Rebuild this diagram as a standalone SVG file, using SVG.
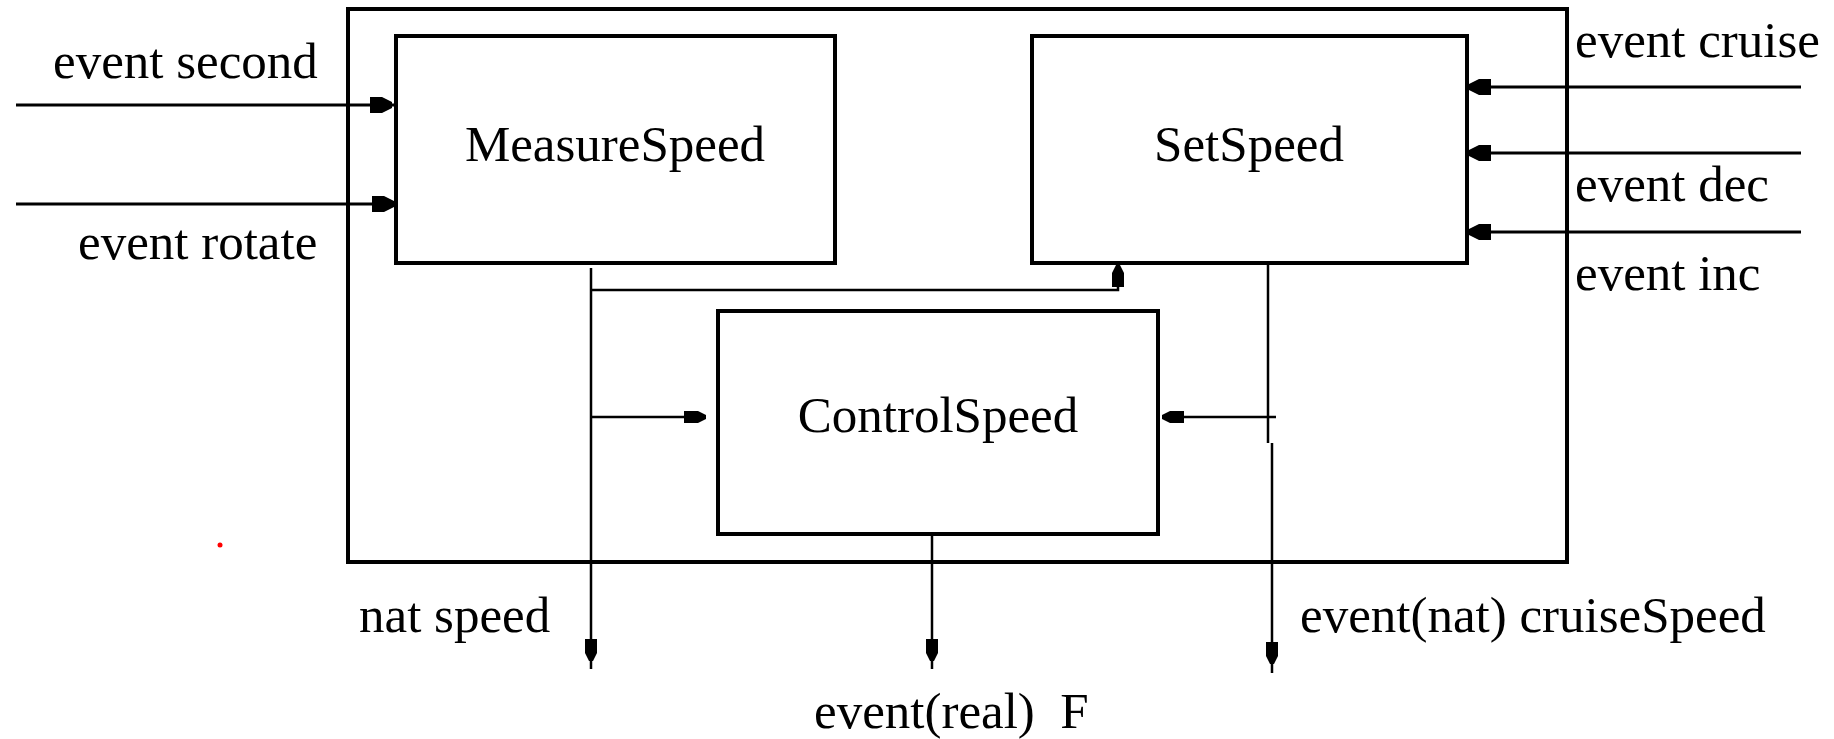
<svg xmlns="http://www.w3.org/2000/svg" xmlns:xlink="http://www.w3.org/1999/xlink" width="1834" height="739" viewBox="0 0 1834 739">
<style>
  .lbl { font-family: "Liberation Serif", "Times New Roman", serif; font-size: 51px; fill: #000; }
  .box { fill: #fff; stroke: #000; stroke-width: 4; }
  .wire { fill: none; stroke: #000; stroke-width: 3; }
  .thin { fill: none; stroke: #000; stroke-width: 2.5; }
</style>
<defs>
  <polygon id="ah" points="0,-3 0,3 -10,8 -22,8 -22,-8 -10,-8" fill="#000"/>
  <polygon id="ahs" points="0,-2 0,2 -8,6 -22,6 -22,-6 -8,-6" fill="#000"/>
</defs>
<rect width="1834" height="739" fill="#fff"/>
<g id="system">
  <rect x="348" y="9" width="1219" height="553" fill="none" stroke="#000" stroke-width="4"/>
</g>
<g id="connectors">
  <line class="wire" x1="16" y1="105" x2="396" y2="105"/>
  <use xlink:href="#ah" href="#ah" transform="translate(392,105)"/>
  <line class="wire" x1="16" y1="204" x2="396" y2="204"/>
  <use xlink:href="#ah" href="#ah" transform="translate(394,204)"/>
  <line class="wire" x1="1801" y1="87" x2="1467" y2="87"/>
  <use xlink:href="#ah" href="#ah" transform="translate(1469,87) rotate(180)"/>
  <line class="wire" x1="1801" y1="153" x2="1467" y2="153"/>
  <use xlink:href="#ah" href="#ah" transform="translate(1469,153) rotate(180)"/>
  <line class="wire" x1="1801" y1="232" x2="1467" y2="232"/>
  <use xlink:href="#ah" href="#ah" transform="translate(1469,232) rotate(180)"/>
  <polyline class="thin" points="591,268 591,669"/>
  <polyline class="thin" points="591,290 1118,290 1118,264"/>
  <use xlink:href="#ahs" href="#ahs" transform="translate(1118,265) rotate(-90)"/>
  <line class="thin" x1="591" y1="417" x2="706" y2="417"/>
  <use xlink:href="#ahs" href="#ahs" transform="translate(706,417)"/>
  <polyline class="thin" points="1268,258 1268,443"/>
  <polyline class="thin" points="1272,443 1272,673"/>
  <line class="thin" x1="1276" y1="417" x2="1162" y2="417"/>
  <use xlink:href="#ahs" href="#ahs" transform="translate(1162,417) rotate(180)"/>
  <line class="thin" x1="932" y1="534" x2="932" y2="669"/>
  <use xlink:href="#ahs" href="#ahs" transform="translate(932,661) rotate(90)"/>
  <use xlink:href="#ahs" href="#ahs" transform="translate(591,661) rotate(90)"/>
  <use xlink:href="#ahs" href="#ahs" transform="translate(1272,664) rotate(90)"/>
</g>
<g id="MeasureSpeed">
  <rect class="box" x="396" y="36" width="439" height="227"/>
  <text class="lbl" x="615" y="161" text-anchor="middle">MeasureSpeed</text>
</g>
<g id="SetSpeed">
  <rect class="box" x="1032" y="36" width="435" height="227"/>
  <text class="lbl" x="1249" y="161" text-anchor="middle">SetSpeed</text>
</g>
<g id="ControlSpeed">
  <rect class="box" x="718" y="311" width="440" height="223" stroke-width="3.5"/>
  <text class="lbl" x="938" y="432" text-anchor="middle">ControlSpeed</text>
</g>
<g id="labels">
  <text class="lbl" x="53" y="78">event second</text>
  <text class="lbl" x="78" y="259">event rotate</text>
  <text class="lbl" x="1575" y="57">event cruise</text>
  <text class="lbl" x="1575" y="201">event dec</text>
  <text class="lbl" x="1575" y="290">event inc</text>
  <text class="lbl" x="359" y="632">nat speed</text>
  <text class="lbl" x="1300" y="632">event(nat) cruiseSpeed</text>
  <text class="lbl" x="814" y="728" xml:space="preserve">event(real)  F</text>
</g>
<circle cx="220" cy="545" r="2.5" fill="#f00"/>
</svg>
